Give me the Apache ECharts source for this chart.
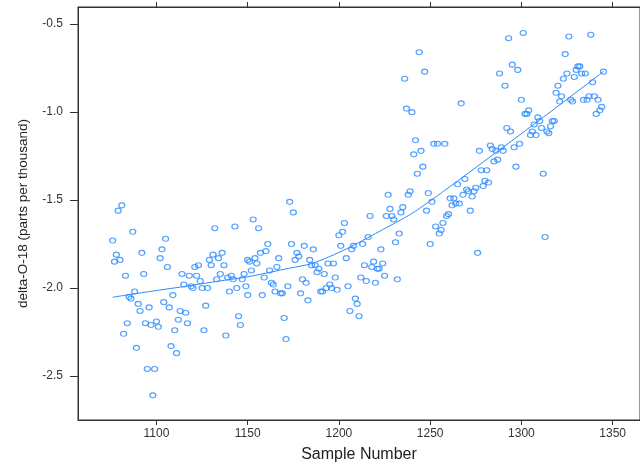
<!DOCTYPE html>
<html>
<head>
<meta charset="utf-8">
<script src="https://cdn.jsdelivr.net/npm/echarts@6/dist/echarts.min.js"></script>
<style>
  html, body { margin: 0; padding: 0; background: #fff; overflow: hidden; }
  #chart { width: 640px; height: 468px; }
</style>
</head>
<body>
<div id="chart"></div>
<script>
// Oxygen isotope record: one measurement per sample
const sampleNumber = [
  1076,1077,1078,1079,1080,1081,1082,1083,1084,1085,1086,1087,1088,1089,1090,
  1091,1092,1093,1094,1095,1096,1097,1098,1099,1100,1101,1102,1103,1104,1105,
  1106,1107,1108,1109,1110,1111,1112,1113,1114,1115,1116,1117,1118,1119,1120,
  1121,1122,1123,1124,1125,1126,1127,1128,1129,1130,1131,1132,1133,1134,1135,
  1136,1137,1138,1139,1140,1141,1142,1143,1144,1145,1146,1147,1148,1149,1150,
  1150,1151,1152,1153,1154,1155,1156,1157,1158,1159,1160,1161,1162,1163,1164,
  1165,1166,1167,1168,1169,1170,1171,1172,1173,1174,1175,1176,1177,1178,1179,
  1180,1181,1182,1183,1184,1185,1186,1187,1188,1189,1190,1191,1192,1193,1194,
  1195,1196,1197,1198,1199,1200,1201,1202,1203,1204,1205,1206,1207,1208,1209,
  1210,1211,1212,1213,1214,1215,1216,1217,1218,1219,1220,1221,1222,1223,1224,
  1225,1226,1227,1228,1229,1230,1231,1232,1233,1234,1235,1236,1237,1238,1239,
  1240,1241,1242,1243,1244,1245,1246,1247,1248,1249,1250,1251,1252,1253,1254,
  1255,1256,1257,1258,1259,1260,1261,1262,1263,1264,1265,1266,1267,1268,1269,
  1270,1271,1272,1273,1274,1275,1276,1277,1278,1279,1280,1281,1282,1283,1284,
  1285,1286,1287,1288,1289,1290,1291,1292,1293,1294,1295,1296,1297,1298,1299,
  1300,1301,1302,1303,1304,1305,1306,1307,1308,1309,1310,1311,1312,1313,1314,
  1315,1316,1317,1318,1319,1320,1321,1322,1323,1324,1325,1326,1327,1328,1329,
  1330,1331,1332,1333,1334,1335,1336,1337,1338,1339,1340,1341,1342,1343,1344,
  1345
];

const deltaO18 = [
  -1.73,-1.85,-1.81,-1.56,-1.84,-1.53,-2.26,-1.93,-2.20,-2.05,-2.06,-1.68,-2.02,-2.34,-2.09,
  -2.13,-1.80,-1.92,-2.20,-2.46,-2.11,-2.21,-2.61,-2.46,-2.19,-2.22,-1.83,-1.78,-2.08,-1.72,
  -1.88,-2.11,-2.33,-2.04,-2.24,-2.37,-2.18,-2.13,-1.92,-1.98,-2.14,-2.20,-1.93,-1.99,-2.00,
  -1.88,-1.93,-1.87,-1.96,-2.00,-2.24,-2.10,-2.00,-1.84,-1.87,-1.81,-1.66,-1.95,-1.83,-1.92,
  -1.80,-1.87,-2.27,-1.94,-2.02,-1.93,-1.95,-1.65,-2.00,-2.16,-2.21,-1.95,-1.92,-1.99,-2.04,
  -1.84,-1.85,-1.90,-1.61,-1.83,-1.86,-1.66,-1.80,-2.04,-1.94,-1.79,-1.75,-1.90,-1.97,-1.98,
  -2.02,-1.88,-1.83,-2.03,-2.03,-2.17,-2.29,-1.99,-1.51,-1.75,-1.57,-1.84,-1.80,-1.82,-2.03,
  -1.95,-1.76,-1.97,-2.07,-1.84,-1.87,-1.78,-1.87,-1.91,-1.89,-2.02,-2.02,-1.92,-2.00,-1.86,
  -1.98,-2.00,-1.86,-1.94,-2.01,-1.70,-1.76,-1.68,-1.63,-1.83,-1.99,-2.13,-1.78,-1.76,-2.06,
  -2.09,-2.16,-1.94,-1.75,-1.87,-1.96,-1.71,-1.59,-1.88,-1.85,-1.97,-1.89,-1.89,-1.78,-1.86,
  -1.93,-1.59,-1.47,-1.55,-1.59,-1.61,-1.74,-1.95,-1.69,-1.57,-1.54,-0.81,-0.98,-1.47,-1.45,
  -1.00,-1.24,-1.16,-1.35,-0.66,-1.22,-1.31,-0.77,-1.56,-1.46,-1.75,-1.51,-1.18,-1.65,-1.18,
  -1.69,-1.67,-1.63,-1.18,-1.59,-1.58,-1.49,-1.53,-1.49,-1.52,-1.41,-1.52,-0.95,-1.47,-1.38,
  -1.44,-1.45,-1.56,-1.48,-1.45,-1.43,-1.80,-1.22,-1.33,-1.42,-1.39,-1.33,-1.40,-1.19,-1.21,
  -1.28,-1.22,-1.27,-0.78,-1.20,-1.22,-0.85,-1.09,-0.58,-1.11,-0.73,-1.20,-1.31,-0.76,-1.18,
  -0.93,-0.55,-1.01,-1.01,-0.99,-1.13,-1.11,-1.07,-1.13,-1.03,-1.05,-1.09,-1.35,-1.71,-1.11,
  -1.12,-1.08,-1.05,-1.05,-0.89,-0.85,-0.94,-0.91,-0.81,-0.67,-0.78,-0.57,-0.93,-0.94,-0.80,
  -0.76,-0.74,-0.74,-0.78,-0.93,-0.78,-0.93,-0.91,-0.56,-0.83,-0.91,-1.01,-0.93,-0.99,-0.97,
  -0.77
];

// Smoothed trend through the record
const fitSample = [1076, 1100, 1116, 1130, 1150, 1170, 1186, 1204, 1222, 1240, 1258, 1285, 1312, 1345];
const fitDelta  = [-2.052, -2.014, -1.990, -1.967, -1.936, -1.893, -1.858, -1.778, -1.679, -1.576, -1.445, -1.238, -1.029, -0.769];

const xTickValues = [1100, 1150, 1200, 1250, 1300, 1350];
const yTickValues = [-2.5, -2.0, -1.5, -1.0, -0.5];

const points = sampleNumber.map((s, i) => [s, deltaO18[i]]);
const trend = fitSample.map((s, i) => [s, fitDelta[i]]);

const ink = '#333333';
const blue = '#2a8bff';
const font = '"Liberation Sans", Arial, Helvetica, sans-serif';

// The panel runs on past the right edge of the page
const xRange = { min: 1057, max: 1365 };

const chart = echarts.init(document.getElementById('chart'), null, { renderer: 'canvas' });
chart.setOption({
  animation: false,
  backgroundColor: '#ffffff',
  grid: {
    left: 78, top: 7, width: 569, height: 416,
    show: true, borderColor: ink, borderWidth: 1
  },
  xAxis: [
    {
      type: 'value', position: 'bottom', min: xRange.min, max: xRange.max,
      name: 'Sample Number', nameLocation: 'middle', nameGap: 27,
      nameTextStyle: { fontFamily: font, fontSize: 16, color: '#222' },
      axisLine: { show: true, onZero: false, lineStyle: { color: ink, width: 1 } },
      axisTick: { show: true, length: 5, customValues: xTickValues, lineStyle: { color: ink } },
      axisLabel: {
        customValues: xTickValues, margin: 8, fontFamily: font, fontSize: 12, color: '#333',
        formatter: v => String(Math.round(v))
      },
      splitLine: { show: false }
    },
    {
      type: 'value', position: 'top', min: xRange.min, max: xRange.max,
      axisLine: { show: true, onZero: false, lineStyle: { color: ink, width: 1 } },
      axisTick: { show: true, length: 5, customValues: xTickValues, lineStyle: { color: ink } },
      axisLabel: { show: false },
      splitLine: { show: false }
    }
  ],
  yAxis: {
    type: 'value', min: -2.75, max: -0.4024,
    name: 'delta-O-18 (parts per thousand)', nameLocation: 'middle', nameGap: 48,
    nameTextStyle: { fontFamily: font, fontSize: 13.5, color: '#222' },
    axisLine: { show: true, onZero: false, lineStyle: { color: ink, width: 1 } },
    axisTick: { show: true, length: 8, customValues: yTickValues, lineStyle: { color: ink } },
    axisLabel: {
      customValues: yTickValues, margin: 15, fontFamily: font, fontSize: 12, color: '#333',
      formatter: v => Number(v).toFixed(1)
    },
    splitLine: { show: false }
  },
  series: [
    {
      type: 'scatter', data: points, xAxisIndex: 0,
      symbol: 'circle', symbolSize: [6, 5],
      itemStyle: { color: 'rgba(0,0,0,0)', borderColor: blue, borderWidth: 1.2 },
      emphasis: { disabled: true }
    },
    {
      type: 'line', data: trend, xAxisIndex: 0,
      smooth: 0.25, showSymbol: false,
      lineStyle: { color: blue, width: 1 },
      emphasis: { disabled: true }
    }
  ]
});
</script>
</body>
</html>
